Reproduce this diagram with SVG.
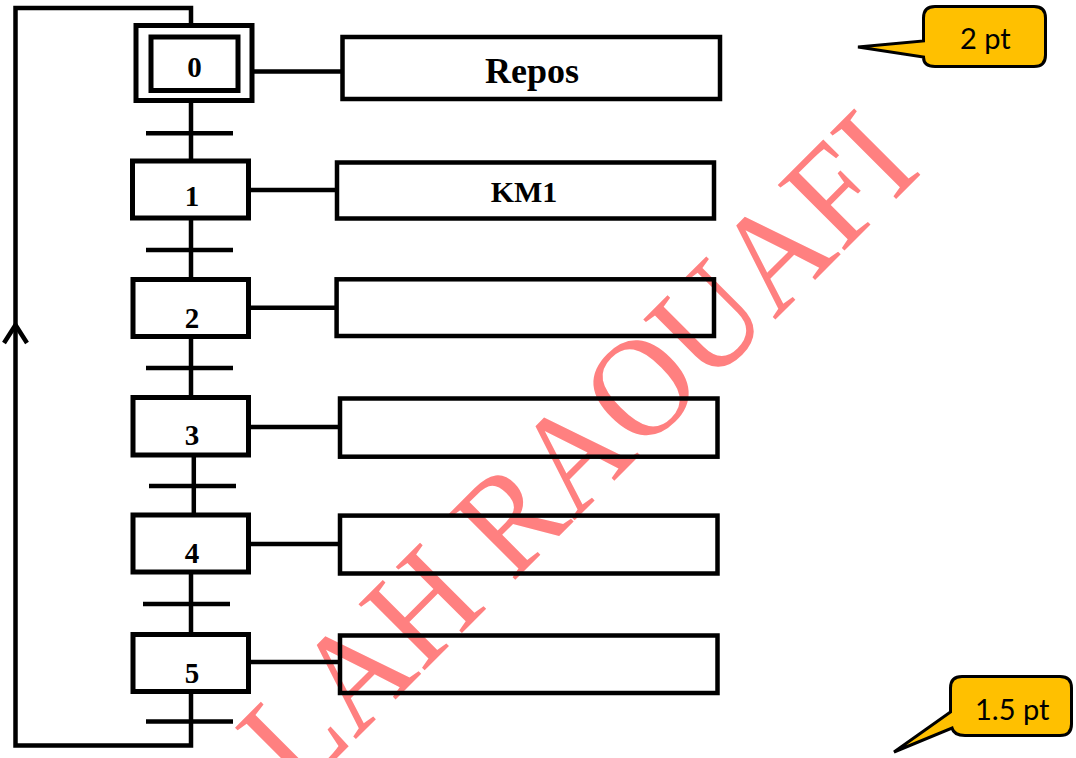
<svg xmlns="http://www.w3.org/2000/svg" width="1076" height="758" viewBox="0 0 1076 758">
  <style>
    .step { fill: none; stroke: #000; stroke-width: 5; }
    .act { fill: none; stroke: #000; stroke-width: 4.5; }
    .ln { fill: none; stroke: #000; stroke-width: 4.5; }
    .num { font-family: "Liberation Serif", "Times New Roman", serif; font-weight: bold; font-size: 29px; text-anchor: middle; fill: #000; }
    .lbl { font-family: "Liberation Serif", "Times New Roman", serif; font-weight: bold; text-anchor: middle; fill: #000; }
    .call { fill: #FFC000; stroke: #000; stroke-width: 3; stroke-linejoin: miter; }
    .ctext { font-family: Lato, "Open Sans", sans-serif; font-size: 29px; fill: #000; }
    .wm { font-family: "Liberation Serif", "Times New Roman", serif; font-size: 131px; fill: #ff8080; text-anchor: end; }
  </style>

  <rect width="1076" height="758" fill="#fff"/>

  <!-- watermark, drawn beneath everything else -->
  <text class="wm" transform="translate(923.7 171.3) rotate(-45) scale(1 1.09)">LAH RAOUAFI</text>

  <!-- links, transitions and return loop -->
  <g id="connectors" class="ln">
    <!-- vertical trunk between steps -->
    <line x1="191" y1="102" x2="191" y2="159"/>
    <line x1="191" y1="220" x2="191" y2="278"/>
    <line x1="191" y1="338" x2="191" y2="396"/>
    <line x1="193.8" y1="457" x2="193.8" y2="513"/>
    <line x1="191" y1="574" x2="191" y2="633"/>
    <!-- return loop from last transition back to step 0 -->
    <path d="M191 693 V745.5 H15.5 V8 H191 V24"/>
    <path d="M4 343 L15.5 325 L27 343"/>
    <!-- step to action links -->
    <line x1="254" y1="71.5" x2="341" y2="71.5"/>
    <line x1="250" y1="190" x2="335" y2="190"/>
    <line x1="250" y1="307.7" x2="335" y2="307.7"/>
    <line x1="250" y1="427" x2="338" y2="427"/>
    <line x1="250" y1="544" x2="338" y2="544"/>
    <line x1="250" y1="662" x2="338" y2="662"/>
  </g>

  <!-- transitions -->
  <g id="transitions" class="ln">
    <line id="t0" x1="146" y1="133.3" x2="233" y2="133.3"/>
    <line id="t1" x1="146" y1="250" x2="233" y2="250"/>
    <line id="t2" x1="146" y1="368" x2="233" y2="368"/>
    <line id="t3" x1="149" y1="486" x2="236" y2="486"/>
    <line id="t4" x1="143" y1="604" x2="230" y2="604"/>
    <line id="t5" x1="146" y1="721.5" x2="233" y2="721.5"/>
  </g>

  <!-- steps -->
  <g id="step0">
    <rect class="step" x="136" y="25.5" width="116" height="75"/>
    <rect class="step" x="151" y="37" width="87" height="53.5"/>
    <text class="num" x="194.5" y="77.3">0</text>
  </g>
  <g id="step1">
    <rect class="step" x="132.5" y="161" width="116" height="57"/>
    <text class="num" x="192" y="206">1</text>
  </g>
  <g id="step2">
    <rect class="step" x="133" y="279.5" width="115.5" height="57"/>
    <text class="num" x="192" y="327.7">2</text>
  </g>
  <g id="step3">
    <rect class="step" x="133" y="397.5" width="115.5" height="57.5"/>
    <text class="num" x="192" y="445">3</text>
  </g>
  <g id="step4">
    <rect class="step" x="133" y="515" width="115.5" height="57"/>
    <text class="num" x="192" y="563">4</text>
  </g>
  <g id="step5">
    <rect class="step" x="133" y="634.5" width="115.5" height="57"/>
    <text class="num" x="192" y="682.7">5</text>
  </g>

  <!-- actions -->
  <g id="action0">
    <rect class="act" x="342.5" y="37" width="377.5" height="62"/>
    <text class="lbl" x="532" y="83" font-size="36">Repos</text>
  </g>
  <g id="action1">
    <rect class="act" x="337" y="162.5" width="377" height="56"/>
    <text class="lbl" x="524" y="202" font-size="30">KM1</text>
  </g>
  <g id="action2">
    <rect class="act" x="336.6" y="279.3" width="377.4" height="56.7"/>
  </g>
  <g id="action3">
    <rect class="act" x="340" y="398.5" width="377.5" height="58.2"/>
  </g>
  <g id="action4">
    <rect class="act" x="340" y="515.6" width="377.5" height="57.9"/>
  </g>
  <g id="action5">
    <rect class="act" x="340" y="635.5" width="377.5" height="57.5"/>
  </g>

  <!-- line weight callouts -->
  <g id="callout-2pt">
    <path class="call" d="M935 6.5 H1034 Q1045.5 6.5 1045.5 18 V55 Q1045.5 66.5 1034 66.5 H935 Q923.5 66.5 923.5 57 L858 47 L923.5 41 V18 Q923.5 6.5 935 6.5 Z"/>
    <text class="ctext" x="960" y="49">2 pt</text>
  </g>
  <g id="callout-15pt">
    <path class="call" d="M962 676.5 H1060 Q1071.5 676.5 1071.5 688 V724 Q1071.5 735.5 1060 735.5 H965 Q954 735.5 952 728 L894 752 L950.5 712 V688 Q950.5 676.5 962 676.5 Z"/>
    <text class="ctext" x="975" y="720">1.5 pt</text>
  </g>
</svg>
